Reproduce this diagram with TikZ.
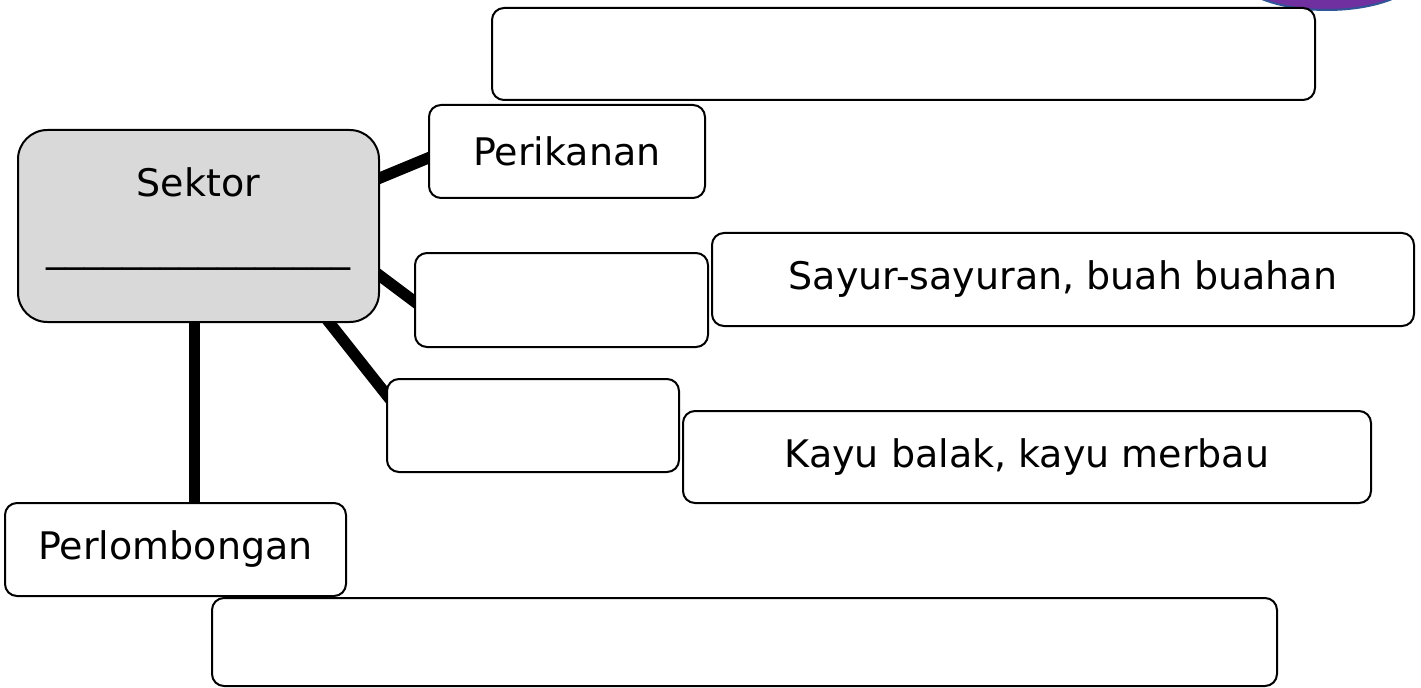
\documentclass[tikz,border=0pt]{standalone}
\usepackage{fontspec}
\setmainfont{DejaVu Sans}
\usetikzlibrary{calc,backgrounds}

\definecolor{ungu}{HTML}{7030A0}
\definecolor{biru}{HTML}{2F5597}
\definecolor{kelabu}{HTML}{D9D9D9}

\tikzstyle{kotak} = [draw=black, line width=1.5pt, fill=white, rounded corners=9pt, inner sep=0pt, font=\fontsize{28.5}{34}\selectfont]
\tikzstyle{cabang} = [line width=8.5pt]

\begin{document}
\begin{tikzpicture}[x=0.75pt, y=-0.75pt]
  \tikzset{induk/.style={kotak, fill=kelabu, rounded corners=22pt, align=center, text depth=17pt}}
  \useasboundingbox (0,0) rectangle (1421,688);

  % bulatan ungu di sudut
  \begin{scope}
    \clip (0,0) rectangle (1421,688);
    \draw[biru, fill=ungu, line width=1.5pt] (1327,-30) ellipse [x radius=71pt, y radius=30pt];
  \end{scope}

  \node (atas) [kotak, minimum width=617.25pt, minimum height=69pt] at (903.5,54) {};
  \node (sektor) [induk, minimum width=270.75pt, minimum height=144pt] at (198.5,226)
    {Sektor\\[15pt]\_\_\_\_\_\_\_\_\_\_\_\_\_\_\_\_};
  \node (ikan) [kotak, minimum width=207pt, minimum height=69.75pt] at (567,151.5) {Perikanan};
  \node (tani) [kotak, minimum width=219.75pt, minimum height=70.5pt] at (561.5,300) {};
  \node (sayur) [kotak, minimum width=526.5pt, minimum height=69.75pt] at (1063,279.5) {Sayur-sayuran, buah buahan};
  \node (hutan) [kotak, minimum width=219pt, minimum height=69.75pt] at (533,425.5) {};
  \node (kayu) [kotak, minimum width=516pt, minimum height=69pt] at (1027,457) {Kayu balak, kayu merbau};
  \node (lombong) [kotak, minimum width=255.75pt, minimum height=69.75pt] at (175.5,549.5) {Perlombongan};
  \node (bawah) [kotak, minimum width=798.75pt, minimum height=66pt] at (744.5,642) {};

  % cabang
  \begin{pgfonlayer}{background}
    \draw[cabang] ($(sektor.east)+(-5,-46)$) -- ($(ikan.west)+(5,4.5)$);
    \draw[cabang] ($(sektor.east)+(-5,46)$) -- ($(tani.west)+(5,5)$);
    \draw[cabang] ($(sektor.south)+(128,-4)$) -- ($(hutan.west)+(5,-25)$);
    \draw[cabang] ($(sektor.south)+(-4,0)$) -- ($(sektor.south |- lombong.north)+(-4,0)$);
  \end{pgfonlayer}
\end{tikzpicture}
\end{document}
